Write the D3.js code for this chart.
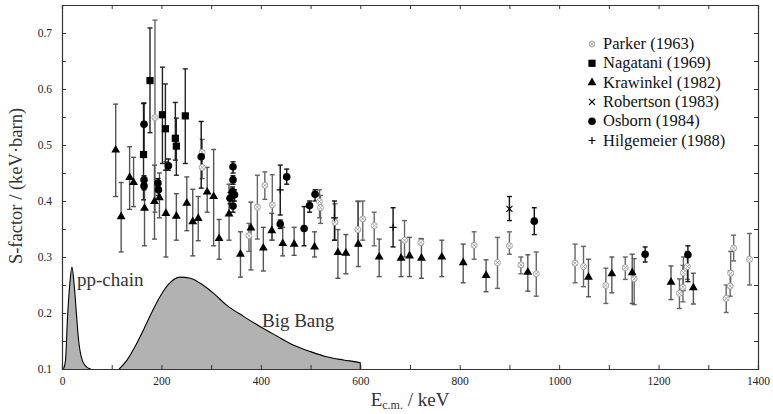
<!DOCTYPE html>
<html>
<head>
<meta charset="utf-8">
<script src="https://cdn.jsdelivr.net/npm/d3@7"></script>
<style>
  body { margin: 0; background: #fff; }
  text { font-family: "Liberation Serif", "DejaVu Serif", serif; }
</style>
</head>
<body>
<svg id="chart" width="773" height="414"></svg>
<script>
// [E (keV), S, S low, S high]
const parker = [
  [187, 0.549, 0.38, 0.723], [282, 0.487, 0.46, 0.51], [282, 0.46, 0.44, 0.48],
  [376, 0.338, 0.31, 0.36], [393, 0.389, 0.332, 0.446], [408, 0.428, 0.403, 0.452],
  [423, 0.393, 0.33, 0.447], [518, 0.399, 0.37, 0.42], [520, 0.388, 0.36, 0.41],
  [549, 0.362, 0.33, 0.395], [595, 0.349, 0.32, 0.40], [605, 0.368, 0.33, 0.40],
  [628, 0.356, 0.32, 0.38], [689, 0.330, 0.30, 0.365], [722, 0.326, 0.322, 0.333],
  [829, 0.321, 0.296, 0.345], [876, 0.290, 0.244, 0.335], [900, 0.320, 0.305, 0.345],
  [923, 0.286, 0.27, 0.30], [954, 0.270, 0.23, 0.309], [1032, 0.289, 0.254, 0.323],
  [1049, 0.283, 0.247, 0.319], [1094, 0.249, 0.217, 0.28], [1133, 0.281, 0.26, 0.30],
  [1151, 0.261, 0.215, 0.297], [1242, 0.235, 0.208, 0.261], [1249, 0.246, 0.22, 0.285],
  [1250, 0.272, 0.24, 0.30], [1258, 0.283, 0.26, 0.31], [1336, 0.226, 0.201, 0.25],
  [1344, 0.248, 0.23, 0.275], [1345, 0.271, 0.25, 0.31], [1351, 0.316, 0.293, 0.339],
  [1383, 0.296, 0.25, 0.342]
];
const nagatani = [
  [164, 0.483, 0.402, 0.574], [177, 0.615, 0.522, 0.709], [202, 0.554, 0.467, 0.639],
  [208, 0.529, 0.455, 0.609], [228, 0.512, 0.473, 0.576], [230, 0.498, 0.446, 0.548],
  [248, 0.552, 0.467, 0.636]
];
const krawinkel = [
  [108, 0.491, 0.408, 0.573], [119, 0.372, 0.309, 0.433], [136, 0.442, 0.385, 0.497],
  [144, 0.433, 0.39, 0.478], [166, 0.387, 0.32, 0.44], [186, 0.399, 0.332, 0.464],
  [196, 0.406, 0.37, 0.45], [209, 0.378, 0.30, 0.47], [230, 0.373, 0.33, 0.413],
  [251, 0.396, 0.347, 0.443], [263, 0.363, 0.302, 0.421], [274, 0.369, 0.329, 0.408],
  [292, 0.416, 0.38, 0.46], [305, 0.408, 0.32, 0.492], [316, 0.333, 0.296, 0.367],
  [336, 0.377, 0.33, 0.43], [359, 0.305, 0.264, 0.345], [380, 0.352, 0.277, 0.398],
  [405, 0.316, 0.275, 0.353], [422, 0.347, 0.33, 0.378], [444, 0.324, 0.302, 0.353],
  [467, 0.323, 0.303, 0.353], [508, 0.318, 0.30, 0.345], [555, 0.308, 0.262, 0.349],
  [571, 0.307, 0.27, 0.34], [596, 0.323, 0.283, 0.399], [638, 0.300, 0.265, 0.332],
  [682, 0.298, 0.265, 0.33], [699, 0.302, 0.265, 0.335], [723, 0.298, 0.262, 0.332],
  [764, 0.300, 0.265, 0.33], [807, 0.290, 0.254, 0.323], [853, 0.267, 0.238, 0.295],
  [937, 0.273, 0.239, 0.304], [1059, 0.264, 0.229, 0.296], [1106, 0.270, 0.236, 0.30],
  [1147, 0.272, 0.217, 0.305], [1225, 0.255, 0.224, 0.284], [1270, 0.245, 0.216, 0.271]
];
const robertson = [[900, 0.386, 0.365, 0.408]];
const osborn = [
  [165, 0.537, 0.479, 0.575], [165, 0.438, 0.43, 0.445], [165, 0.427, 0.42, 0.435],
  [193, 0.432, 0.425, 0.44], [194, 0.420, 0.41, 0.43], [214, 0.463, 0.455, 0.475],
  [280, 0.479, 0.423, 0.542], [344, 0.461, 0.45, 0.47], [344, 0.438, 0.43, 0.445],
  [343, 0.417, 0.41, 0.425], [347, 0.411, 0.40, 0.42], [338, 0.405, 0.395, 0.415],
  [344, 0.391, 0.38, 0.40], [439, 0.359, 0.351, 0.366], [452, 0.443, 0.43, 0.457],
  [487, 0.351, 0.32, 0.39], [498, 0.392, 0.38, 0.40], [509, 0.412, 0.40, 0.42],
  [950, 0.364, 0.34, 0.388], [1173, 0.305, 0.291, 0.318], [1259, 0.304, 0.256, 0.320]
];
const hilgemeier = [
  [439, 0.420, 0.375, 0.464], [548, 0.370, 0.33, 0.40], [666, 0.353, 0.318, 0.388]
];

// Gamow windows
const ppKeV = [3, 7, 11, 15.5, 20, 24.5, 29.5, 33, 36, 41, 46, 52, 58];
const ppS = [0.1, 0.115, 0.19, 0.25, 0.282, 0.25, 0.193, 0.155, 0.134, 0.115, 0.107, 0.102, 0.1];
const bbKeV = [115, 130, 150, 165, 180, 197, 215, 237, 258, 278, 305, 331, 365, 398, 432, 465, 500, 532, 566, 600, 600];
const bbS = [0.1, 0.115, 0.145, 0.172, 0.2, 0.229, 0.252, 0.264, 0.262, 0.253, 0.235, 0.214, 0.194, 0.176, 0.159, 0.143, 0.131, 0.122, 0.116, 0.111, 0.1];

const xTicks = d3.range(0, 1401, 100);
const yTicks = d3.range(2, 15).map(i => i * 0.05);

const svg = d3.select("#chart");
const x = d3.scaleLinear().domain([0, 1400]).range([62, 758]);
const y = d3.scaleLinear().domain([0.1, 0.75]).range([369, 5]);

// filled curves
const area = d3.area().x(d => x(d[0])).y0(y(0.1)).y1(d => y(d[1])).curve(d3.curveMonotoneX);
const line = d3.line().x(d => x(d[0])).y(d => y(d[1])).curve(d3.curveMonotoneX);
[[ppKeV, ppS], [bbKeV, bbS]].forEach(([ks, ss]) => {
  const pts = ks.map((k, i) => [k, ss[i]]);
  svg.append("path").attr("d", area(pts)).attr("fill", "#b2b2b2");
  svg.append("path").attr("d", line(pts)).attr("fill", "none").attr("stroke", "#000").attr("stroke-width", 1.1);
});

svg.append("text").attr("x", 77).attr("y", 286).attr("font-size", 19).attr("fill", "#333").text("pp-chain");
svg.append("text").attr("x", 262).attr("y", 327).attr("font-size", 19).attr("fill", "#333").text("Big Bang");

// error bars
function bars(data, color) {
  const g = svg.append("g").attr("stroke", color).attr("stroke-width", 1.4).attr("fill", "none");
  data.forEach(d => {
    const cx = x(d[0]);
    g.append("line").attr("x1", cx).attr("x2", cx).attr("y1", y(d[2])).attr("y2", y(d[3]));
    g.append("line").attr("x1", cx - 2.5).attr("x2", cx + 2.5).attr("y1", y(d[2])).attr("y2", y(d[2]));
    g.append("line").attr("x1", cx - 2.5).attr("x2", cx + 2.5).attr("y1", y(d[3])).attr("y2", y(d[3]));
  });
}
bars(parker, "#666");
bars(krawinkel, "#555");
bars(nagatani, "#222");
bars(osborn, "#111");
bars(robertson, "#111");
bars(hilgemeier, "#111");

// markers
const mark = {
  parker: (g) => {
    g.append("circle").attr("r", 3).attr("fill", "#fff").attr("stroke", "#999").attr("stroke-width", 0.9);
    g.append("path").attr("d", "M-2,-2L2,2M-2,2L2,-2").attr("stroke", "#999").attr("stroke-width", 0.8);
  },
  nagatani: (g) => g.append("path").attr("d", d3.symbol(d3.symbolSquare, 52)()).attr("fill", "#000"),
  krawinkel: (g) => g.append("path").attr("d", d3.symbol(d3.symbolTriangle, 34)()).attr("fill", "#000"),
  robertson: (g) => g.append("path").attr("d", "M-3,-3L3,3M-3,3L3,-3").attr("stroke", "#000").attr("stroke-width", 1.2),
  osborn: (g) => g.append("circle").attr("r", 3.8).attr("fill", "#000"),
  hilgemeier: (g) => g.append("path").attr("d", "M-3.5,0L3.5,0M0,-3.5L0,3.5").attr("stroke", "#000").attr("stroke-width", 1.2)
};
function points(data, key) {
  data.forEach(d => {
    const g = svg.append("g").attr("transform", `translate(${x(d[0])},${y(d[1])})`);
    mark[key](g);
  });
}
points(parker, "parker");
points(krawinkel, "krawinkel");
points(nagatani, "nagatani");
points(osborn, "osborn");
points(robertson, "robertson");
points(hilgemeier, "hilgemeier");

// frame and axes
const fmtX = d => d % 200 === 0 ? d : "";
const fmtY = d => Math.round(d * 100) % 10 === 0 ? d3.format(".1f")(d) : "";
const axB = svg.append("g").attr("transform", `translate(0,${y(0.1)})`)
  .call(d3.axisBottom(x).tickValues(xTicks).tickSize(-4).tickPadding(8).tickFormat(fmtX));
const axT = svg.append("g").attr("transform", `translate(0,${y(0.75)})`)
  .call(d3.axisTop(x).tickValues(xTicks).tickSize(-4).tickFormat(""));
const axL = svg.append("g").attr("transform", `translate(${x(0)},0)`)
  .call(d3.axisLeft(y).tickValues(yTicks).tickSize(-4).tickPadding(10).tickFormat(fmtY));
const axR = svg.append("g").attr("transform", `translate(${x(1400)},0)`)
  .call(d3.axisRight(y).tickValues(yTicks).tickSize(-4).tickFormat(""));
[axB, axT, axL, axR].forEach(a => {
  a.select(".domain").attr("stroke", "#333").attr("stroke-width", 1.2);
  a.selectAll(".tick line").attr("stroke", "#333");
  a.selectAll("text").attr("font-family", "Liberation Serif").attr("font-size", 11.5).attr("fill", "#222");
});

// axis titles
svg.append("text").attr("transform", "translate(22,186) rotate(-90)").attr("text-anchor", "middle")
  .attr("font-size", 18.5).attr("fill", "#333").text("S-factor / (keV·barn)");
const xt = svg.append("text").attr("x", 410).attr("y", 406).attr("text-anchor", "middle")
  .attr("font-size", 19).attr("fill", "#333");
xt.append("tspan").text("E");
xt.append("tspan").attr("font-size", 12).attr("dy", 3).text("c.m.");
xt.append("tspan").attr("dy", -3).text(" / keV");

// legend
const legend = [
  ["Parker (1963)", "parker"], ["Nagatani (1969)", "nagatani"], ["Krawinkel (1982)", "krawinkel"],
  ["Robertson (1983)", "robertson"], ["Osborn (1984)", "osborn"], ["Hilgemeier (1988)", "hilgemeier"]
];
legend.forEach(([name, key], i) => {
  const ly = 44 + i * 19.3;
  const g = svg.append("g").attr("transform", `translate(592,${ly})`);
  mark[key](g);
  svg.append("text").attr("x", 603).attr("y", ly + 5).attr("font-size", 16.5).attr("fill", "#111").text(name);
});
</script>
</body>
</html>
